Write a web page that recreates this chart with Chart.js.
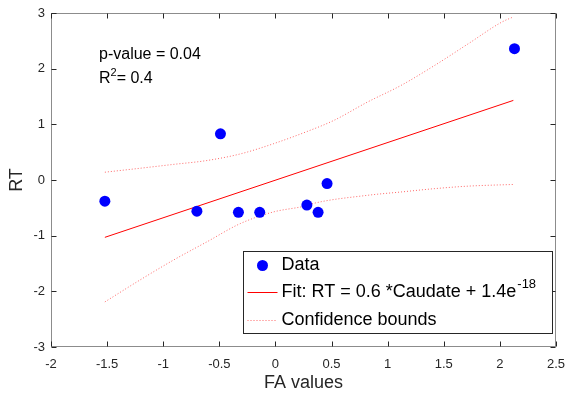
<!DOCTYPE html>
<html>
<head>
<meta charset="utf-8">
<script src="https://cdn.jsdelivr.net/npm/chart.js@4.4.1/dist/chart.umd.min.js"></script>
<style>
  html, body { margin: 0; padding: 0; background: #fff; }
</style>
</head>
<body>
<canvas id="chart" width="568" height="395"></canvas>
<script>
// data
const dataX = [-1.52, -0.70, -0.49, -0.33, -0.14, 0.28, 0.38, 0.46, 2.13];
const dataY = [-0.38, -0.56, 0.83, -0.58, -0.58, -0.45, -0.58, -0.065, 2.36];

const fitX = [-1.52, 2.12];
const fitY = [-1.03, 1.43];

const upperX = [-1.52, -1.21, -0.91, -0.61, -0.31, -0.02, 0.28, 0.52, 0.82, 1.12, 1.42, 1.72, 2.02, 2.12];
const upperY = [0.14, 0.21, 0.28, 0.35, 0.47, 0.65, 0.87, 1.07, 1.40, 1.70, 2.06, 2.45, 2.84, 2.93];
const lowerX = [-1.52, -1.21, -0.91, -0.61, -0.31, -0.02, 0.28, 0.34, 0.82, 1.12, 1.42, 1.72, 2.12];
const lowerY = [-2.19, -1.80, -1.44, -1.11, -0.78, -0.575, -0.46, -0.42, -0.275, -0.215, -0.155, -0.11, -0.08];

const xTicks = [-2, -1.5, -1, -0.5, 0, 0.5, 1, 1.5, 2, 2.5];
const yTicks = [-3, -2, -1, 0, 1, 2, 3];

const pValueText = 'p-value = 0.04';
const r2Value = '= 0.4';
const legendLabels = ['Data', 'Fit: RT = 0.6 *Caudate + 1.4e', 'Confidence bounds'];
const fitExponent = '-18';

const FONT = '"Liberation Sans", Arial, Helvetica, sans-serif';
const AXIS_COL = '#262626';

const toPoints = (xs, ys) => xs.map((x, i) => ({ x: x, y: ys[i] }));

// box, inward ticks, legend and the p-value note (matlab look)
const matlabAxes = {
  id: 'matlabAxes',
  beforeDatasetsDraw(chart) {
    const { ctx, chartArea, scales } = chart;
    const l = Math.round(chartArea.left) + 0.5, r = Math.round(chartArea.right) - 0.5;
    const t = Math.round(chartArea.top) + 0.5, b = Math.round(chartArea.bottom) - 0.5;
    ctx.save();
    ctx.strokeStyle = '#8c8c8c';
    ctx.lineWidth = 1;
    ctx.strokeRect(l, t, r - l, b - t);
    ctx.strokeStyle = AXIS_COL;
    ctx.beginPath();
    xTicks.forEach(v => {
      const px = Math.round(scales.x.getPixelForValue(v)) + 0.5;
      ctx.moveTo(px, b); ctx.lineTo(px, b - 5);
      ctx.moveTo(px, t); ctx.lineTo(px, t + 5);
    });
    yTicks.forEach(v => {
      const py = Math.round(scales.y.getPixelForValue(v)) + 0.5;
      ctx.moveTo(l, py); ctx.lineTo(l + 5, py);
      ctx.moveTo(r, py); ctx.lineTo(r - 5, py);
    });
    ctx.stroke();
    ctx.restore();
  },
  afterDraw(chart) {
    const { ctx, chartArea } = chart;
    ctx.save();
    ctx.fillStyle = '#000';
    ctx.textBaseline = 'alphabetic';

    // stats note
    const nx = chartArea.left + 48;
    ctx.font = '16px ' + FONT;
    ctx.fillText(pValueText, nx, chartArea.top + 46);
    ctx.fillText('R', nx, chartArea.top + 70);
    let w = ctx.measureText('R').width;
    ctx.font = '11px ' + FONT;
    ctx.fillText('2', nx + w, chartArea.top + 63);
    w += ctx.measureText('2').width;
    ctx.font = '16px ' + FONT;
    ctx.fillText(r2Value, nx + w, chartArea.top + 70);

    // legend box
    const bw = 309, bh = 82;
    const bx = Math.round(chartArea.right - 4 - bw) + 0.5;
    const by = Math.round(chartArea.bottom - 14 - bh) + 0.5;
    ctx.fillStyle = '#fff';
    ctx.fillRect(bx, by, bw, bh);
    ctx.strokeStyle = AXIS_COL;
    ctx.lineWidth = 1;
    ctx.strokeRect(bx, by, bw, bh);

    const rows = [by + 14, by + 41, by + 69];
    const tx = bx + 38;

    ctx.fillStyle = '#0000ff';
    ctx.beginPath();
    ctx.arc(bx + 19, rows[0], 5.5, 0, Math.PI * 2);
    ctx.fill();

    ctx.strokeStyle = '#ff0000';
    ctx.beginPath();
    ctx.moveTo(bx + 4, rows[1]); ctx.lineTo(bx + 34, rows[1]);
    ctx.stroke();

    ctx.strokeStyle = '#ff6666';
    ctx.setLineDash([1, 2]);
    ctx.beginPath();
    ctx.moveTo(bx + 4, rows[2]); ctx.lineTo(bx + 34, rows[2]);
    ctx.stroke();
    ctx.setLineDash([]);

    ctx.fillStyle = '#000';
    ctx.textBaseline = 'middle';
    ctx.font = '18px ' + FONT;
    ctx.fillText(legendLabels[0], tx, rows[0]);
    ctx.fillText(legendLabels[1], tx, rows[1]);
    const fw = ctx.measureText(legendLabels[1]).width;
    ctx.font = '13px ' + FONT;
    ctx.fillText(fitExponent, tx + fw + 1, rows[1] - 8);
    ctx.font = '18px ' + FONT;
    ctx.fillText(legendLabels[2], tx, rows[2]);
    ctx.restore();
  }
};

new Chart(document.getElementById('chart'), {
  type: 'scatter',
  data: {
    datasets: [
      {
        label: legendLabels[0],
        data: toPoints(dataX, dataY),
        backgroundColor: '#0000ff',
        borderWidth: 0,
        pointRadius: 5.5,
        pointHoverRadius: 5.5,
        order: 0
      },
      {
        label: 'Fit',
        data: toPoints(fitX, fitY),
        showLine: true,
        borderColor: '#ff0000',
        borderWidth: 1,
        pointRadius: 0,
        order: 1
      },
      {
        label: 'Upper bound',
        data: toPoints(upperX, upperY),
        showLine: true,
        borderColor: '#ff6666',
        borderWidth: 1,
        borderDash: [1, 2],
        cubicInterpolationMode: 'monotone',
        pointRadius: 0,
        order: 2
      },
      {
        label: 'Lower bound',
        data: toPoints(lowerX, lowerY),
        showLine: true,
        borderColor: '#ff6666',
        borderWidth: 1,
        borderDash: [1, 2],
        cubicInterpolationMode: 'monotone',
        pointRadius: 0,
        order: 2
      }
    ]
  },
  options: {
    responsive: false,
    animation: false,
    devicePixelRatio: 1,
    layout: { padding: { top: 13, right: 12, left: 0, bottom: 0 } },
    plugins: {
      legend: { display: false },
      tooltip: { enabled: false }
    },
    scales: {
      x: {
        type: 'linear',
        min: -2,
        max: 2.5,
        afterBuildTicks: s => { s.ticks = xTicks.map(v => ({ value: v })); },
        afterFit: s => { s.height = 48; s.paddingLeft = 0; s.paddingRight = 0; },
        grid: { display: false, drawTicks: false },
        border: { display: false },
        ticks: {
          color: AXIS_COL,
          font: { family: FONT, size: 13 },
          padding: 10,
          maxRotation: 0,
          callback: v => String(v)
        },
        title: {
          display: true,
          text: 'FA values',
          color: AXIS_COL,
          font: { family: FONT, size: 18 },
          padding: { top: 0, bottom: 1 }
        }
      },
      y: {
        type: 'linear',
        min: -3,
        max: 3,
        afterBuildTicks: s => { s.ticks = yTicks.map(v => ({ value: v })); },
        afterFit: s => { s.width = 51; s.paddingTop = 0; s.paddingBottom = 0; },
        grid: { display: false, drawTicks: false },
        border: { display: false },
        ticks: {
          color: AXIS_COL,
          font: { family: FONT, size: 13 },
          padding: 6,
          callback: v => String(v)
        },
        title: {
          display: true,
          text: 'RT',
          color: AXIS_COL,
          font: { family: FONT, size: 18 },
          padding: { top: 6, bottom: 0 }
        }
      }
    }
  },
  plugins: [matlabAxes]
});
</script>
</body>
</html>
